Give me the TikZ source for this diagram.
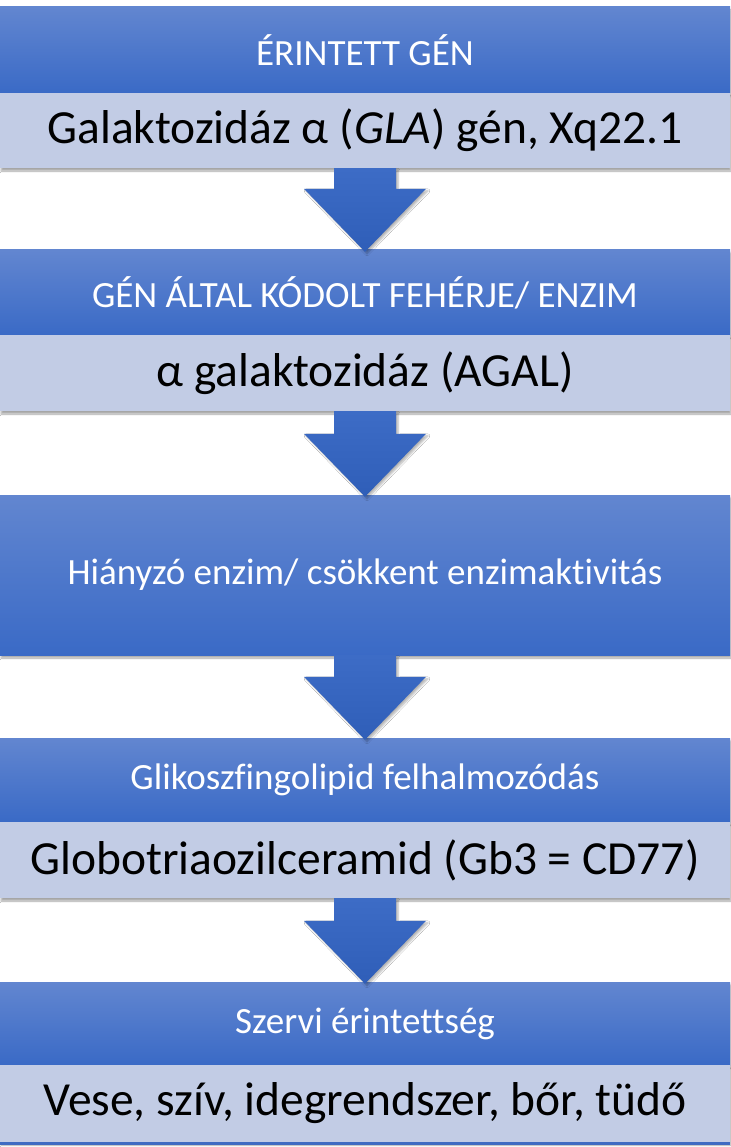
\documentclass[tikz,border=0pt]{standalone}
\usepackage{fontspec}
\setmainfont{Carlito}[Ligatures={NoCommon}]
\usetikzlibrary{calc,shadows.blur}
\definecolor{hdtop}{HTML}{6286D0}
\definecolor{hdbot}{HTML}{3A6AC6}
\definecolor{lightbox}{HTML}{C2CCE5}
\definecolor{arrtop}{HTML}{3D6CC6}
\definecolor{arrbot}{HTML}{2F5EB8}
\definecolor{lineblue}{HTML}{3F6BC2}
\tikzset{
  hdbox/.style={rectangle, minimum width=730pt, inner sep=0pt, top color=hdtop, bottom color=hdbot, draw=none,
    text=white, font=\fontsize{37}{44}\selectfont,
    blur shadow={shadow xshift=1pt, shadow yshift=-3pt, shadow blur steps=6, shadow opacity=35}},
  ltbox/.style={rectangle, minimum width=730pt, inner sep=0pt, fill=lightbox, draw=none,
    text=black, font=\fontsize{47.5}{56}\selectfont,
    blur shadow={shadow xshift=1pt, shadow yshift=-3pt, shadow blur steps=6, shadow opacity=35}},
  blockarr/.style={top color=arrtop, bottom color=arrbot, draw=none,
    blur shadow={shadow xshift=2pt, shadow yshift=-2pt, shadow blur steps=5, shadow opacity=30}}
}
\newcommand{\blockarrow}[2]{%
  \path[blockarr] ($(#1.south)+(-31,0)$) -- ($(#2.north)+(-31,61)$) -- ($(#2.north)+(-61,61)$)
    -- ($(#2.north)+(0,-2)$) -- ($(#2.north)+(61,61)$) -- ($(#2.north)+(31,61)$)
    -- ($(#1.south)+(31,0)$) -- cycle;}
\begin{document}
\begin{tikzpicture}[x=1pt,y=1pt]
\useasboundingbox (0,0) rectangle (730,-1147);
\fill[white] (0,0) rectangle (730,-1147);
\node[hdbox, minimum height=86pt] (h1) at (365,-50) {ÉRINTETT GÉN};
\node[ltbox, minimum height=75pt] (l1) at (365,-130.5) {Galaktozidáz α (\textit{GLA}) gén, Xq22.1};
\node[hdbox, minimum height=85pt] (h2) at (365,-292.5) {GÉN ÁLTAL KÓDOLT FEHÉRJE/ ENZIM};
\node[ltbox, minimum height=76pt] (l2) at (365,-373) {α galaktozidáz (AGAL)};
\node[hdbox, minimum height=160pt] (h3) at (365,-575) {Hiányzó enzim/ csökkent enzimaktivitás};
\node[hdbox, minimum height=84pt] (h4) at (365,-780) {Glikoszfingolipid felhalmozódás};
\node[ltbox, minimum height=76pt] (l4) at (365,-860) {Globotriaozilceramid (Gb3 = CD77)};
\node[hdbox, minimum height=83pt] (h5) at (365,-1023.5) {Szervi érintettség};
\node[ltbox, minimum height=77pt] (l5) at (365,-1103.5) {Vese, szív, idegrendszer, bőr, tüdő};
\fill[lineblue] (l5.south west) rectangle ($(l5.south east)+(0,-3)$);
\blockarrow{l1}{h2}
\blockarrow{l2}{h3}
\blockarrow{h3}{h4}
\blockarrow{l4}{h5}
\end{tikzpicture}
\end{document}
